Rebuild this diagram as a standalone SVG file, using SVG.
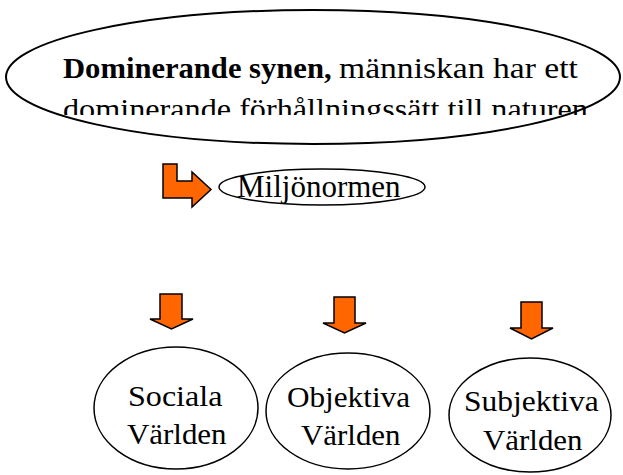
<svg xmlns="http://www.w3.org/2000/svg" width="623" height="475" viewBox="0 0 623 475">
<style>
.node{fill:#fff;stroke:#000;stroke-width:1.5}
.arr{fill:#FF6600;stroke:#000;stroke-width:1.5;stroke-linejoin:miter}
</style>
<defs>
<clipPath id="clip2"><rect x="0" y="85" width="623" height="30"/></clipPath>
</defs>
<rect width="623" height="475" fill="#fff"/>
<g id="dominerande">
<ellipse class="node" cx="313" cy="77" rx="307" ry="67" stroke-width="2" style="stroke-width:2"/>
<text font-family="Liberation Serif" font-size="30" font-weight="bold" transform="translate(63,78) scale(1.02,1)">Dominerande synen,</text>
<text font-family="Liberation Serif" font-size="30" transform="translate(339,78) scale(1.12,1)">människan har ett</text>
<g clip-path="url(#clip2)">
<text font-family="Liberation Serif" font-size="30" transform="translate(63,119) scale(1.074,1)">dominerande förhållningssätt till naturen</text>
</g>
</g>
<g id="miljonormen">
<ellipse class="node" cx="322" cy="187" rx="103" ry="18"/>
<text font-family="Liberation Serif" font-size="31" x="237" y="197">Miljönormen</text>
</g>
<g id="sociala">
<ellipse class="node" cx="176" cy="408" rx="82" ry="61"/>
<text font-family="Liberation Serif" font-size="30" transform="translate(128,406) scale(1.07,1)">Sociala</text>
<text font-family="Liberation Serif" font-size="30" transform="translate(127,444) scale(1.03,1)">Världen</text>
</g>
<g id="objektiva">
<ellipse class="node" cx="348" cy="411" rx="82" ry="58"/>
<text font-family="Liberation Serif" font-size="30" transform="translate(287,407) scale(1.04,1)">Objektiva</text>
<text font-family="Liberation Serif" font-size="30" transform="translate(301,445) scale(1.03,1)">Världen</text>
</g>
<g id="subjektiva">
<ellipse class="node" cx="530" cy="415" rx="81" ry="57"/>
<text font-family="Liberation Serif" font-size="30" transform="translate(464,411) scale(1.05,1)">Subjektiva</text>
<text font-family="Liberation Serif" font-size="30" transform="translate(483,450) scale(1.03,1)">Världen</text>
</g>
<g id="connectors">
<path class="arr" d="M163,164 L177,164 L177,181 L192,181 L192,172 L211,189.5 L192,207 L192,198 L163,198 Z"/>
<path class="arr" d="M160,294 L182,294 L182,319 L193,319 L171.5,329 L150,319 L160,319 Z"/>
<path class="arr" d="M334,297 L355,297 L355,323 L366,323 L344.5,333 L323,323 L334,323 Z"/>
<path class="arr" d="M521,302 L542,302 L542,328 L553,328 L531.5,339 L510,328 L521,328 Z"/>
</g>
</svg>
